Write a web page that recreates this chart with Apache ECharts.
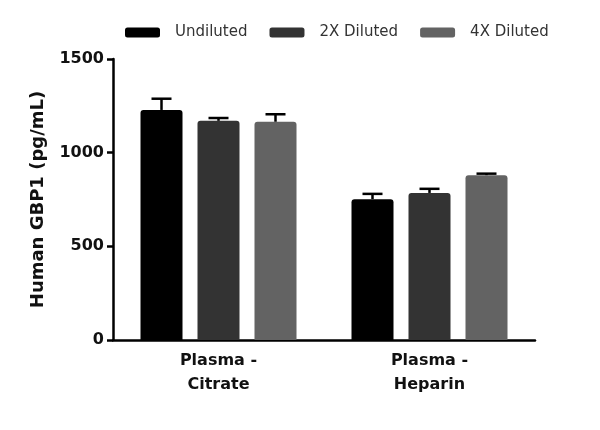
<!DOCTYPE html>
<html>
<head>
<meta charset="utf-8">
<script src="https://cdn.jsdelivr.net/npm/echarts@6/dist/echarts.min.js"></script>
<style>
    html, body { margin: 0; padding: 0; background: #fff; }
    #chart { width: 600px; height: 430px; }
</style>
</head>
<body>
<div id="chart"></div>
<script>
    const categories = ['Plasma -\nCitrate', 'Plasma -\nHeparin']
    const seriesNames = ['Undiluted', '2X Diluted', '4X Diluted']
    const undiluted = [1228, 752]
    const diluted2x = [1170, 785]
    const diluted4x = [1165, 880]
    const errUndiluted = [60, 28]
    const errDiluted2x = [15, 22]
    const errDiluted4x = [40, 8]
    const yTicks = [0, 500, 1000, 1500]

    const colors = ['#000000', '#333333', '#636363']
    const barWidth = 42
    const barGapPx = 15
    const values = [undiluted, diluted2x, diluted4x]
    const errors = [errUndiluted, errDiluted2x, errDiluted4x]
    const font = '"DejaVu Sans", sans-serif'

    const chart = echarts.init(document.getElementById('chart'))

    const barSeries = seriesNames.map((name, i) => ({
        name,
        type: 'bar',
        barWidth,
        barGap: (barGapPx / barWidth * 100) + '%',
        itemStyle: { color: colors[i], borderRadius: [3, 3, 0, 0] },
        data: values[i],
        z: 2
    }))

    const errSeries = seriesNames.map((name, i) => ({
        type: 'custom',
        silent: true,
        z: 3,
        data: values[i].map((v, j) => [j, v, errors[i][j]]),
        renderItem (params, api) {
            const top = api.coord([api.value(0), api.value(1) + api.value(2)])
            const base = api.coord([api.value(0), api.value(1)])
            const x = base[0] + (i - 1) * (barWidth + barGapPx)
            const style = { stroke: '#000', lineWidth: 2.5 }
            return {
                type: 'group',
                children: [
                    { type: 'line', shape: { x1: x, y1: base[1], x2: x, y2: top[1] }, style },
                    { type: 'line', shape: { x1: x - 10, y1: top[1], x2: x + 10, y2: top[1] }, style }
                ]
            }
        }
    }))

    chart.setOption({
        animation: false,
        legend: {
            data: seriesNames,
            top: 20,
            left: 120,
            itemWidth: 35,
            itemHeight: 10,
            itemGap: 22,
            icon: 'roundRect',
            textStyle: { fontFamily: font, fontSize: 15, color: '#333', padding: [0, 0, 0, 10] }
        },
        grid: { left: 113, right: 65, top: 59, bottom: 90 },
        xAxis: {
            type: 'category',
            data: categories,
            axisLine: { lineStyle: { color: '#000', width: 2.5 } },
            axisTick: { alignWithLabel: true, length: 6, lineStyle: { color: '#000', width: 2.5 } },
            axisLabel: {
                fontFamily: font, fontSize: 16, fontWeight: 'bold', color: '#111',
                lineHeight: 24, margin: 9
            }
        },
        yAxis: {
            type: 'value',
            min: yTicks[0],
            max: yTicks[yTicks.length - 1],
            interval: 500,
            name: 'Human GBP1 (pg/mL)',
            nameLocation: 'middle',
            nameGap: 66,
            nameTextStyle: { fontFamily: font, fontSize: 18, fontWeight: 'bold', color: '#111' },
            axisLine: { show: true, lineStyle: { color: '#000', width: 2.5 } },
            axisTick: { show: true, length: 6, lineStyle: { color: '#000', width: 2.5 } },
            axisLabel: {
                fontFamily: font, fontSize: 16, fontWeight: 'bold', color: '#111', margin: 9,
                formatter: v => String(v)
            },
            splitLine: { show: false }
        },
        series: barSeries.concat(errSeries)
    })
</script>
</body>
</html>
